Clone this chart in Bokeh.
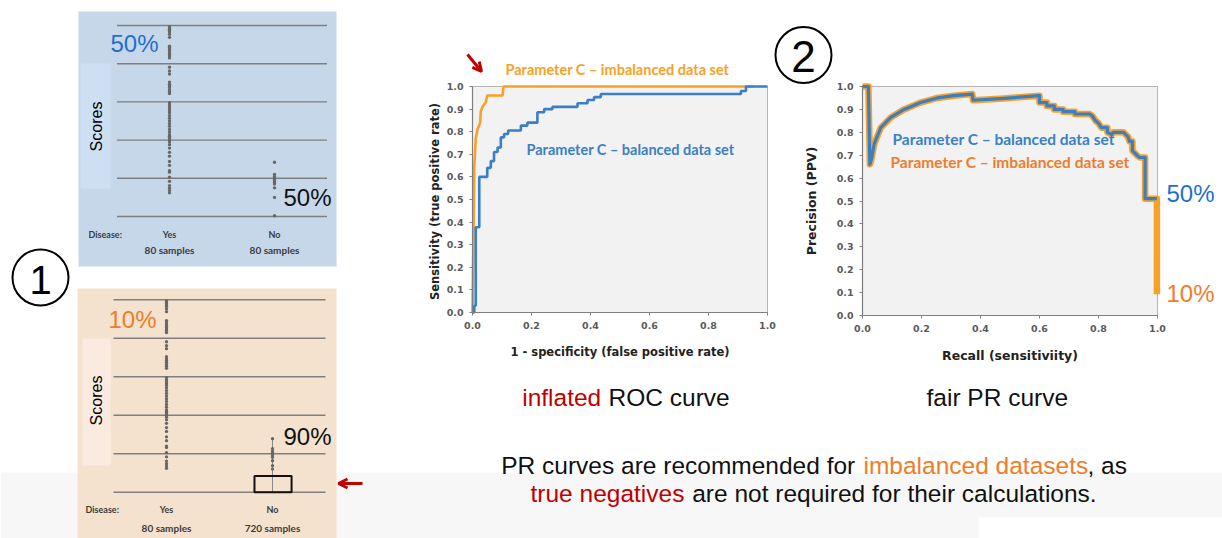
import math
from bokeh.plotting import figure
from bokeh.models import Range1d, LinearAxis, FixedTicker, PrintfTickFormatter, Arrow, OpenHead
from bokeh.core.properties import value
from bokeh.embed import file_html
from bokeh.resources import INLINE

# ---------------- data ----------------
groups = ["Yes", "No"]
group_idx = [0, 1]
samples_balanced = ["80 samples", "80 samples"]
samples_imbalanced = ["80 samples", "720 samples"]
score_levels = [0, 1, 2, 3, 4, 5]

yes_scores = [4.97, 4.94, 4.90, 4.87, 4.83, 4.77, 4.69, 4.46, 4.42, 4.37, 4.33, 4.28,
              4.24, 4.20, 4.15, 3.91, 3.81, 3.73, 3.52, 3.46, 3.42, 3.38, 3.32, 3.27,
              3.22, 2.98, 2.92, 2.87, 2.82, 2.77, 2.71, 2.64, 2.57, 2.50, 2.43, 2.36,
              2.28, 2.21, 2.14, 2.10, 2.07, 2.03, 2.00, 1.95, 1.88, 1.79, 1.68, 1.58,
              1.44, 1.34, 1.20, 1.16, 1.03, 0.92, 0.81, 0.74, 0.68, 0.62]
no_scores_balanced = [1.42, 1.10, 1.05, 1.00, 0.97, 0.93, 0.89, 0.85, 0.75, 0.50, 0.02]
no_scores_imbalanced = [1.39, 1.13, 1.07, 1.02, 0.97, 0.91, 0.82, 0.69, 0.60]
no_box_low, no_box_high = 0.0, 0.42

# ROC curves
roc_fpr_balanced = [0, 0.006, 0.011, 0.023, 0.05, 0.062, 0.073, 0.085, 0.096, 0.107, 0.121,
                    0.164, 0.186, 0.22, 0.243, 0.271, 0.356, 0.39, 0.412, 0.435, 0.91, 0.927, 1.0]
roc_tpr_balanced = [0, 0.03, 0.377, 0.6, 0.64, 0.67, 0.71, 0.73, 0.775, 0.79, 0.805,
                    0.827, 0.84, 0.886, 0.9, 0.91, 0.926, 0.94, 0.953, 0.967, 0.98, 1.0, 1.0]
roc_fpr_imbalanced = [0, 0.003, 0.006, 0.011, 0.017, 0.026, 0.028, 0.034, 0.045, 0.05, 0.102, 0.105, 0.95]
roc_tpr_imbalanced = [0, 0.3, 0.64, 0.77, 0.81, 0.84, 0.89, 0.91, 0.93, 0.96, 0.96, 1.0, 1.0]

# PR curves
pr_recall = [0, 0.02, 0.025, 0.03, 0.04, 0.062, 0.096, 0.141, 0.197, 0.254, 0.31, 0.372,
             0.375, 0.479, 0.6, 0.6, 0.625, 0.625, 0.65, 0.65, 0.68, 0.68, 0.72, 0.72,
             0.77, 0.78, 0.79, 0.8, 0.81, 0.83, 0.83, 0.845, 0.85, 0.885, 0.9, 0.905,
             0.915, 0.915, 0.93, 0.94, 0.958, 0.958, 0.998]
pr_precision = [1.0, 1.0, 0.66, 0.68, 0.75, 0.82, 0.865, 0.9, 0.93, 0.95, 0.96, 0.967,
                0.94, 0.948, 0.96, 0.93, 0.93, 0.915, 0.915, 0.9, 0.9, 0.89, 0.89, 0.88,
                0.88, 0.87, 0.85, 0.84, 0.82, 0.82, 0.80, 0.79, 0.80, 0.80, 0.78, 0.76,
                0.76, 0.72, 0.70, 0.69, 0.69, 0.51, 0.51]
pr_recall_tail_imbalanced = [0.998]
pr_precision_tail_imbalanced = [0.093]

tick_01 = [0.0, 0.1, 0.2, 0.3, 0.4, 0.5, 0.6, 0.7, 0.8, 0.9, 1.0]
tick_02 = [0.0, 0.2, 0.4, 0.6, 0.8, 1.0]

# ---------------- colours ----------------
BLUE = "#3a7fc6"
ORANGE_ROC = "#f7a128"
ORANGE_TXT = "#ee7d2a"
RED = "#c00000"
BLUE_BIG = "#1f6fd0"
DOT = "#666666"

# ---------------- canvas ----------------
X0, X1 = 0, 1222
Y0, Y1 = 0, 538


def lin_range(d0, p0, d1, p1, pa, pb):
    s = (p1 - p0) / (d1 - d0)
    return Range1d(start=d0 + (pa - p0) / s, end=d0 + (pb - p0) / s)


p = figure(width=X1 - X0, height=Y1 - Y0, x_range=Range1d(X0, X1), y_range=Range1d(Y1, Y0),
           x_axis_type=None, y_axis_type=None, toolbar_location=None,
           output_backend="svg", min_border=0, outline_line_color=None)
p.background_fill_color = "white"
p.border_fill_color = "white"

p.extra_x_ranges = {
    "roc_x": lin_range(0, 472, 1, 767, X0, X1),
    "pr_x": lin_range(0, 862, 1, 1157, X0, X1),
    "top_x": lin_range(0, 169, 1, 274, X0, X1),
    "bot_x": lin_range(0, 166, 1, 272, X0, X1),
}
p.extra_y_ranges = {
    "roc_y": lin_range(0, 312, 1, 86, Y1, Y0),
    "pr_y": lin_range(0, 315, 1, 86, Y1, Y0),
    "top_y": lin_range(0, 216, 5, 25, Y1, Y0),
    "bot_y": lin_range(0, 491.7, 5, 299.3, Y1, Y0),
}


def txt(x, y, s, color="black", size="24px", font="Liberation Sans", style="normal",
        align="left", baseline="alphabetic", angle=0, xr="default", yr="default"):
    xs = x if isinstance(x, list) else [x]
    ys = y if isinstance(y, list) else [y]
    ss = s if isinstance(s, list) else [s]
    p.text(x=xs, y=ys, text=ss, text_color=color, text_font_size=size,
           text_font=value(font), text_font_style=style, text_align=align,
           text_baseline=baseline, angle=angle, x_range_name=xr, y_range_name=yr)


# background band and panels
p.quad(left=[0], right=[1222], top=[472], bottom=[538], fill_color="#f7f7f7", line_color=None)
p.quad(left=[978], right=[1222], top=[517], bottom=[538], fill_color="white", line_color=None)
p.quad(left=[78], right=[336], top=[11], bottom=[266], fill_color="#c7d7ea", line_color=None)
p.quad(left=[80], right=[110], top=[63], bottom=[188], fill_color="#cddff2", line_color=None)
p.quad(left=[77], right=[336], top=[288], bottom=[538], fill_color="#f4e2cf", line_color=None)
p.quad(left=[82], right=[110], top=[338], bottom=[465], fill_color="#fbeadf", line_color=None)

# panel gridlines
p.segment(x0=-0.5, x1=1.5, y0=score_levels, y1=score_levels, line_color="#7f7f7f",
          line_width=1.4, x_range_name="top_x", y_range_name="top_y")
p.segment(x0=-0.5, x1=1.5, y0=score_levels, y1=score_levels, line_color="#7f7f7f",
          line_width=1.4, x_range_name="bot_x", y_range_name="bot_y")

# dots: balanced
p.scatter(x=[group_idx[0]] * len(yes_scores), y=yes_scores, size=3.3, fill_color=DOT,
          line_color=None, x_range_name="top_x", y_range_name="top_y")
p.scatter(x=[group_idx[1]] * len(no_scores_balanced), y=no_scores_balanced, size=3.3,
          fill_color=DOT, line_color=None, x_range_name="top_x", y_range_name="top_y")
# dots: imbalanced
p.segment(x0=[group_idx[1]], x1=[group_idx[1]], y0=[no_box_low], y1=[max(no_scores_imbalanced)],
          line_color="#8a8a8a", line_width=1, x_range_name="bot_x", y_range_name="bot_y")
p.scatter(x=[group_idx[0]] * len(yes_scores), y=yes_scores, size=3.3, fill_color=DOT,
          line_color=None, x_range_name="bot_x", y_range_name="bot_y")
p.scatter(x=[group_idx[1]] * len(no_scores_imbalanced), y=no_scores_imbalanced, size=3.3,
          fill_color=DOT, line_color=None, x_range_name="bot_x", y_range_name="bot_y")
p.quad(left=[group_idx[1] - 0.17], right=[group_idx[1] + 0.18], bottom=[no_box_low],
       top=[no_box_high], fill_color=None, line_color="#111111", line_width=2,
       x_range_name="bot_x", y_range_name="bot_y")

# panel labels
txt(96, 126, "Scores", size="16px", align="center", baseline="middle", angle=math.pi / 2)
txt(96, 400, "Scores", size="16px", align="center", baseline="middle", angle=math.pi / 2)
txt(88, 234, "Disease:", color="#3a3a3a", size="9px", font="Lato", style="bold", baseline="middle")
txt(85, 509, "Disease:", color="#3a3a3a", size="9px", font="Lato", style="bold", baseline="middle")
txt(group_idx, [234, 234], groups, color="#3a3a3a", size="9px", font="Lato", style="bold",
    align="center", baseline="middle", xr="top_x")
txt(group_idx, [249, 249], samples_balanced, color="#3a3a3a", size="10px", font="Lato",
    style="bold", align="center", baseline="middle", xr="top_x")
txt(group_idx, [509, 509], groups, color="#3a3a3a", size="9px", font="Lato", style="bold",
    align="center", baseline="middle", xr="bot_x")
txt(group_idx, [527, 527], samples_imbalanced, color="#3a3a3a", size="10px", font="Lato",
    style="bold", align="center", baseline="middle", xr="bot_x")

txt(110, 42.5, "50%", color=BLUE_BIG, size="24px")
txt(283, 197, "50%", color="#111111", size="24px")
txt(108, 318.5, "10%", color=ORANGE_TXT, size="24px")
txt(283, 436, "90%", color="#111111", size="24px")

# circled numbers
p.circle(x=[40, 803], y=[277, 54.5], radius=28, fill_color=None, line_color="black", line_width=2)
txt(40, 279, "1", size="40px", align="center", baseline="middle")
txt(803, 56, "2", size="44px", align="center", baseline="middle")

# arrows
p.add_layout(Arrow(end=OpenHead(size=9, line_color=RED, line_width=3), x_start=467, y_start=54,
                   x_end=481, y_end=71, line_color=RED, line_width=3))
p.add_layout(Arrow(end=OpenHead(size=9, line_color=RED, line_width=3), x_start=362, y_start=483,
                   x_end=338, y_end=483, line_color=RED, line_width=3))

# ---------------- ROC subplot ----------------
p.quad(left=[0], right=[1], bottom=[0], top=[1], fill_color="#f2f2f2", line_color="#b5b5b5",
       line_width=1, x_range_name="roc_x", y_range_name="roc_y")
p.line(x=roc_fpr_imbalanced, y=roc_tpr_imbalanced, line_color=ORANGE_ROC, line_width=2.6,
       x_range_name="roc_x", y_range_name="roc_y")
p.step(x=roc_fpr_balanced, y=roc_tpr_balanced, mode="after", line_color=BLUE, line_width=2.6,
       x_range_name="roc_x", y_range_name="roc_y")

# ---------------- PR subplot ----------------
p.quad(left=[0], right=[1], bottom=[0], top=[1], fill_color="#f2f2f2", line_color="#b5b5b5",
       line_width=1, x_range_name="pr_x", y_range_name="pr_y")
p.line(x=pr_recall + pr_recall_tail_imbalanced, y=pr_precision + pr_precision_tail_imbalanced,
       line_color=ORANGE_ROC, line_width=6.5, line_join="round",
       x_range_name="pr_x", y_range_name="pr_y")
p.line(x=pr_recall, y=pr_precision, line_color=BLUE, line_width=3.2, line_join="round",
       x_range_name="pr_x", y_range_name="pr_y")


def make_axis(side, xr, yr, ticks, label, label_size, label_standoff):
    ax = LinearAxis(x_range_name=xr, y_range_name=yr, fixed_location=0, bounds=(0, 1),
                    ticker=FixedTicker(ticks=ticks, minor_ticks=[]),
                    formatter=PrintfTickFormatter(format="%.1f"), axis_label=label)
    ax.axis_line_color = "#7f7f7f"
    ax.axis_line_width = 1.2
    ax.major_tick_line_color = "#7f7f7f"
    ax.major_tick_in = 0
    ax.major_tick_out = 3
    ax.minor_tick_line_color = None
    ax.major_label_standoff = 6
    ax.major_label_text_font = "DejaVu Sans"
    ax.major_label_text_font_style = "bold"
    ax.major_label_text_font_size = "9.5px"
    ax.major_label_text_color = "#5a5a5a"
    ax.axis_label_text_font = "DejaVu Sans"
    ax.axis_label_text_font_style = "bold"
    ax.axis_label_text_font_size = label_size
    ax.axis_label_text_color = "#222222"
    ax.axis_label_standoff = label_standoff
    p.add_layout(ax, side)


make_axis("left", "roc_x", "roc_y", tick_01, "Sensitivity (true positive  rate)", "11.5px", 2)
make_axis("below", "roc_x", "roc_y", tick_02, "1 - specificity (false positive rate)", "11.5px", 13)
make_axis("left", "pr_x", "pr_y", tick_01, "Precision (PPV)", "12.5px", 15)
make_axis("below", "pr_x", "pr_y", tick_02, "Recall (sensitiviity)", "12.5px", 13)

# chart annotations
txt(505, 69, "Parameter C \u2013 imbalanced data set", color=ORANGE_ROC, size="14.5px",
    font="Lato", style="bold")
txt(526, 149, "Parameter C \u2013 balanced data set", color=BLUE, size="14.5px",
    font="Lato", style="bold")
txt(892, 138, "Parameter C \u2013 balanced data set", color=BLUE, size="15.5px",
    font="Lato", style="bold")
txt(890, 161, "Parameter C \u2013 imbalanced data set", color=ORANGE_TXT, size="15.5px",
    font="Lato", style="bold")
txt(1166, 192.5, "50%", color=BLUE_BIG, size="24px")
txt(1166, 292.5, "10%", color=ORANGE_TXT, size="24px")

# captions
txt(521.7, 396.5, "inflated", color=RED, size="24.5px")
txt(608, 396.5, "ROC curve", color="#111111", size="24.5px")
txt(926, 396.5, "fair PR curve", color="#111111", size="24.5px")

txt(500.7, 465, "PR curves are recommended for", color="#111111", size="24.5px")
txt(863, 465, "imbalanced datasets", color=ORANGE_TXT, size="24.5px")
txt(1087, 465, ", as", color="#111111", size="24.5px")
txt(530, 493, "true negatives", color=RED, size="24.5px")
txt(691.7, 493, "are not required for their calculations.", color="#111111", size="24.5px")

open("out.html", "w").write(file_html(p, INLINE))
